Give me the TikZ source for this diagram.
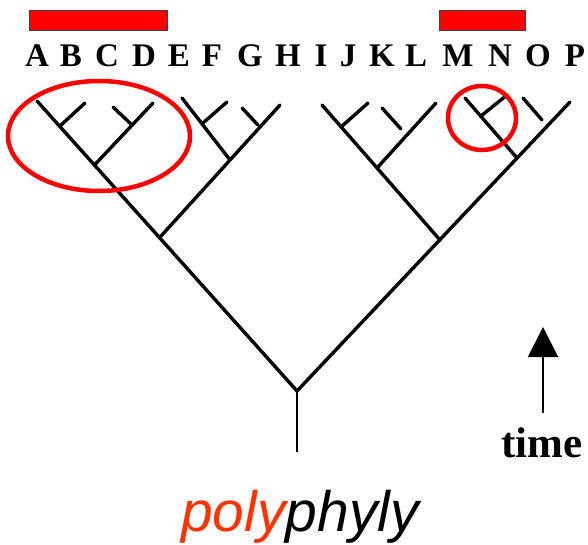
\documentclass[tikz,border=0pt]{standalone}
\usepackage{fontspec}
\newfontfamily\tnr{Liberation Serif}
\newfontfamily\arl{Liberation Sans}
\usetikzlibrary{arrows.meta}
\definecolor{polyred}{HTML}{FF3300}
\begin{document}
\begin{tikzpicture}[x=1pt,y=-1pt,
  branch/.style={line width=3.4pt,line cap=round,black},
  stem/.style={line width=2.6pt,black},
  taxon/.style={anchor=base,inner sep=0pt,font=\tnr\bfseries\fontsize{33}{33}\selectfont},
  ring/.style={draw=red,line width=4.5pt},
  bar/.style={draw=black!75,line width=1pt,fill=red}]
\useasboundingbox (0,0) rectangle (588,545);
% bars
\node[bar,minimum width=138pt,minimum height=20pt,inner sep=0pt] (barL) at (98,21) {};
\node[bar,minimum width=86pt,minimum height=20pt,inner sep=0pt] (barR) at (482,21) {};
% letters
\foreach \l/\x in {A/37,B/71,C/107,D/144,E/179,F/212,G/250,H/288,I/321,J/348,K/382,L/416,M/458,N/500,O/538,P/575}
  \node[taxon] (lab\l) at (\x,67) {\l};
% coordinates
\coordinate (root) at (297,391);
\coordinate (tA) at (37,101);
\coordinate (tB) at (85,103);
\coordinate (tC) at (113,107);
\coordinate (tD) at (153,103);
\coordinate (nAB) at (60,126);
\coordinate (nCD) at (132,125);
\coordinate (nABCD) at (94.5,165);
\coordinate (tE) at (182,98);
\coordinate (tF) at (227,102);
\coordinate (tG) at (242,108);
\coordinate (tH) at (280,105);
\coordinate (nEF) at (203,123);
\coordinate (nGH) at (258,125);
\coordinate (nEFGH) at (230,160);
\coordinate (jL) at (159.5,237.7);
\coordinate (tI) at (322,105);
\coordinate (tJ) at (368,103);
\coordinate (kA) at (382,108);
\coordinate (kB) at (401,129);
\coordinate (tL) at (436,103);
\coordinate (nIJ) at (341,127);
\coordinate (nIJKL) at (377,168);
\coordinate (jR) at (440,240);
\coordinate (tM) at (465,98);
\coordinate (tN) at (507,95);
\coordinate (nMN) at (481,116);
\coordinate (oA) at (523,98);
\coordinate (oB) at (542,120);
\coordinate (tP) at (570,102);
\coordinate (nMNOP) at (517,158);
\coordinate (base) at (297,452);
\coordinate (rootS) at (297,392);
% tree
\draw[branch] (tA) -- (root);
\draw[branch] (tP) -- (root);
\draw[stem] (rootS) -- (base);
\draw[branch] (tB) -- (nAB);
\draw[branch] (tD) -- (nABCD);
\draw[branch] (tC) -- (nCD);
\draw[branch] (tE) -- (nEFGH);
\draw[branch] (tF) -- (nEF);
\draw[branch] (tH) -- (jL);
\draw[branch] (tG) -- (nGH);
\draw[branch] (tI) -- (jR);
\draw[branch] (tJ) -- (nIJ);
\draw[branch] (kA) -- (kB);
\draw[branch] (tL) -- (nIJKL);
\draw[branch] (tM) -- (nMNOP);
\draw[branch] (tN) -- (nMN);
\draw[branch] (oA) -- (oB);
% rings
\draw[ring] (99,136) ellipse [x radius=91, y radius=55];
\draw[ring] (482,118) ellipse [x radius=34, y radius=32];
% time arrow
\coordinate (arrS) at (543,413);
\coordinate (arrE) at (543,327);
\draw[line width=2pt,-{Triangle[length=30pt,width=30pt]}] (arrS) -- (arrE);
\node[anchor=base west,inner sep=0pt,font=\tnr\bfseries\fontsize{43}{43}\selectfont] (time) at (501,457) {time};
% caption
\node[anchor=base west,inner sep=0pt,font=\arl\itshape\fontsize{57}{57}\selectfont] (cap) at (181,531) {\textcolor{polyred}{poly}phyly};
\end{tikzpicture}
\end{document}
